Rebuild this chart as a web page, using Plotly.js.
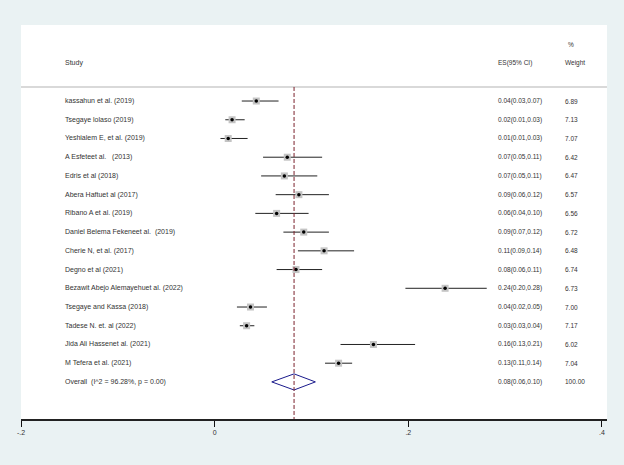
<!DOCTYPE html>
<html>
<head>
<meta charset="utf-8">
<script src="https://cdn.plot.ly/plotly-3.0.1.min.js"></script>
<style>html,body{margin:0;padding:0;background:#eaf2f3;}#chart{width:624px;height:465px;}</style>
</head>
<body>
<div id="chart"></div>
<script>
// ---- data ----
const studies = [
  "kassahun et al. (2019)",
  "Tsegaye lolaso (2019)",
  "Yeshialem E, et al. (2019)",
  "A Esfeteet al.   (2013)",
  "Edris et al (2018)",
  "Abera Haftuet al (2017)",
  "Ribano A et al. (2019)",
  "Daniel Belema Fekeneet al.  (2019)",
  "Cherie N, et al. (2017)",
  "Degno et al (2021)",
  "Bezawit Abejo Alemayehuet al. (2022)",
  "Tsegaye and Kassa (2018)",
  "Tadese N. et. al (2022)",
  "Jida Ali Hassenet al. (2021)",
  "M Tefera et al. (2021)"
];
const es   = [0.043, 0.018, 0.014, 0.075, 0.072, 0.087, 0.064, 0.092, 0.113, 0.084, 0.238, 0.037, 0.033, 0.164, 0.128];
const ciLo = [0.028, 0.011, 0.006, 0.050, 0.048, 0.063, 0.042, 0.071, 0.086, 0.064, 0.197, 0.023, 0.026, 0.130, 0.114];
const ciHi = [0.066, 0.031, 0.034, 0.111, 0.106, 0.118, 0.097, 0.118, 0.144, 0.111, 0.281, 0.054, 0.041, 0.207, 0.142];
const esText = ["0.04(0.03,0.07)","0.02(0.01,0.03)","0.01(0.01,0.03)","0.07(0.05,0.11)","0.07(0.05,0.11)",
  "0.09(0.06,0.12)","0.06(0.04,0.10)","0.09(0.07,0.12)","0.11(0.09,0.14)","0.08(0.06,0.11)",
  "0.24(0.20,0.28)","0.04(0.02,0.05)","0.03(0.03,0.04)","0.16(0.13,0.21)","0.13(0.11,0.14)"];
const weights = ["6.89","7.13","7.07","6.42","6.47","6.57","6.56","6.72","6.48","6.74","6.73","7.00","7.17","6.02","7.04"];

const overallLabel = "Overall  (I^2 = 96.28%, p = 0.00)";
const overallES = 0.082, overallLo = 0.059, overallHi = 0.104;
const overallText = "0.08(0.06,0.10)";
const overallWeight = "100.00";

const tickVals = [-0.2, 0, 0.2, 0.4];
const tickText = ["-.2", "0", ".2", ".4"];

// ---- build ----
const rows = studies.map((_, i) => i + 1);
const overallRow = studies.length + 1;

const traces = [];
// CI lines
const lx = [], ly = [];
rows.forEach((r, i) => { lx.push(ciLo[i], ciHi[i], null); ly.push(r, r, null); });
traces.push({x: lx, y: ly, mode: 'lines', line: {color: '#222', width: 1}, hoverinfo: 'skip'});
// weight boxes
traces.push({x: es, y: rows, mode: 'markers', marker: {symbol: 'square', size: 7, color: '#c4c4c4'}, hoverinfo: 'skip'});
// point estimates
traces.push({x: es, y: rows, mode: 'markers', marker: {symbol: 'circle', size: 3.5, color: '#000'}, hoverinfo: 'skip'});
// overall diamond
const dh = 0.43;
traces.push({
  x: [overallLo, overallES, overallHi, overallES, overallLo],
  y: [overallRow, overallRow - dh, overallRow, overallRow + dh, overallRow],
  mode: 'lines', line: {color: '#1a1a8c', width: 1}, hoverinfo: 'skip'
});

const fontS = {family: 'Liberation Sans, Arial, sans-serif', size: 7, color: '#333'};
const fontN = {family: 'Liberation Sans, Arial, sans-serif', size: 6.5, color: '#333'};
const annotations = [];
const colStudy = 0.0717, colES = 0.8106, colW = 0.925;
function addText(x, y, t, f) {
  annotations.push({xref: 'paper', yref: 'y', x: x, y: y, text: t, showarrow: false,
    xanchor: 'left', yanchor: 'middle', font: f});
}
addText(colStudy, -1.03, "Study", fontS);
addText(colES, -1.03, "ES(95% CI)", fontN);
addText(colW, -1.03, "Weight", fontN);
addText(colW + 0.005, -2.04, "%", fontN);
rows.forEach((r, i) => {
  addText(colStudy, r, studies[i], fontS);
  addText(colES, r, esText[i], fontN);
  addText(colW, r, weights[i], fontN);
});
addText(colStudy, overallRow, overallLabel, fontS);
addText(colES, overallRow, overallText, fontN);
addText(colW, overallRow, overallWeight, fontN);

const yTop = -3.06, yBot = 17.98;
const shapes = [
  {type: 'line', xref: 'paper', yref: 'y', x0: 0, x1: 1, y0: 0.25, y1: 0.25, line: {color: '#d9d9d9', width: 2}},
  {type: 'line', xref: 'x', yref: 'y', x0: overallES, x1: overallES, y0: 0.25, y1: yBot, line: {color: '#7a1f2b', width: 1, dash: '4px,2px'}}
];

const layout = {
  width: 624, height: 465,
  margin: {l: 21, r: 17, t: 25, b: 46},
  paper_bgcolor: '#eaf2f3', plot_bgcolor: '#ffffff',
  showlegend: false,
  xaxis: {range: [-0.2, 0.4052], tickvals: tickVals, ticktext: tickText,
    showgrid: false, zeroline: false, showline: true, linecolor: '#222', linewidth: 1.5,
    ticks: 'outside', ticklen: 6, tickcolor: '#111', tickwidth: 1,
    tickfont: {family: 'Liberation Sans, Arial, sans-serif', size: 7, color: '#333'}},
  yaxis: {range: [yBot, yTop], visible: false, showgrid: false, zeroline: false},
  annotations: annotations, shapes: shapes
};

Plotly.newPlot('chart', traces, layout, {displayModeBar: false, staticPlot: true});
</script>
</body>
</html>
